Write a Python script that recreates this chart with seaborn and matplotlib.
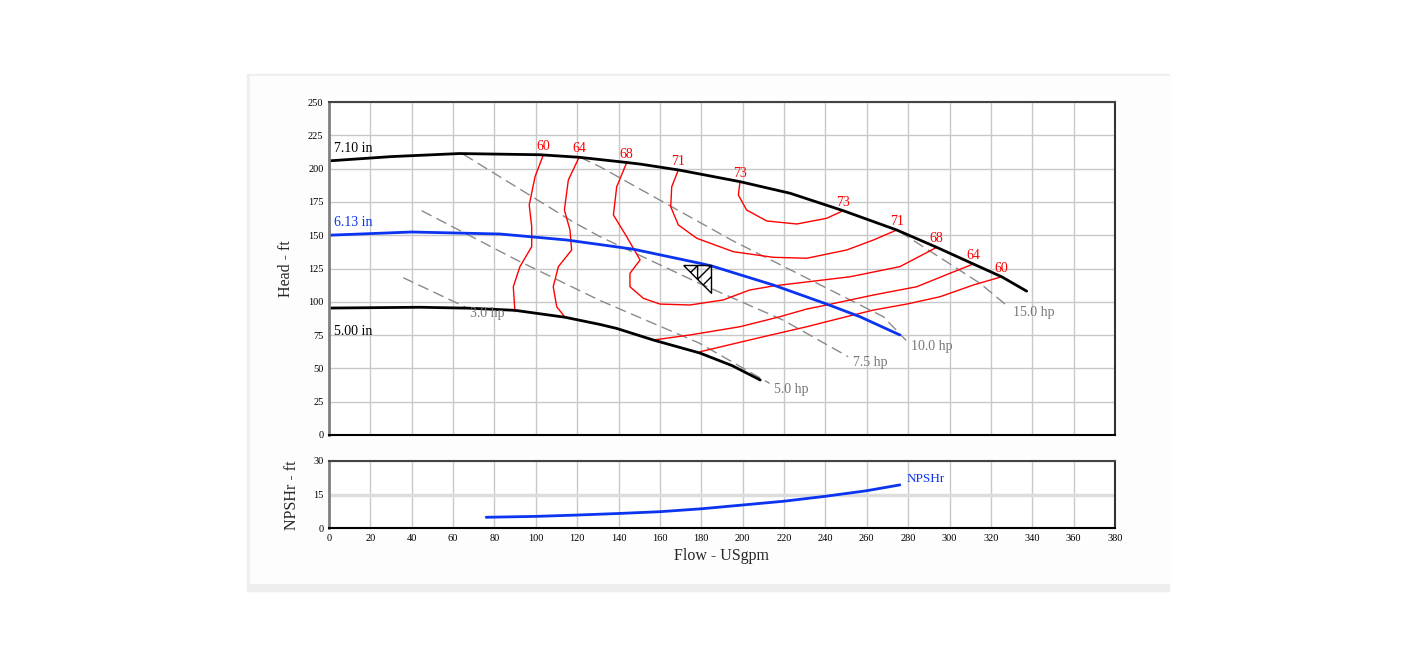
import matplotlib
matplotlib.use("Agg")
import matplotlib.pyplot as plt
import seaborn as sns
from matplotlib.path import Path
from matplotlib.patches import Rectangle

# Стиль
sns.set_theme(style="whitegrid")
plt.rcParams['font.family'] = ['Liberation Serif', 'DejaVu Serif']

# ---- данные ----
# кривые напора по диаметру рабочего колеса
flow_710 = [0, 30, 63, 102, 120.9, 143.9, 150.4, 168.9, 198.7, 222.9, 248.6, 274.5, 293.8, 311.5, 325.2, 337.3]
head_710 = [205.8, 209, 211.3, 210.4, 208.5, 204.6, 203.4, 199, 190.2, 181.5, 168.4, 153.9, 140.9, 128.4, 118.8, 108]

flow_613 = [0, 40, 82.7, 114.9, 147.1, 179.4, 185, 214.8, 240.6, 256.7, 276]
head_613 = [150, 152.4, 150.9, 146.4, 139.5, 128.9, 126.9, 112.6, 98.3, 88.8, 75.1]

flow_500 = [0, 44, 68, 89.9, 114.1, 131, 139.1, 156.8, 179.4, 195, 208.5]
head_500 = [95.3, 95.9, 95.2, 93.6, 88.4, 83, 80, 71.3, 61.5, 52, 41.3]

impellers = [
    ("7.10 in", flow_710, head_710, "black", 9),
    ("6.13 in", flow_613, head_613, "#0a34f0", 9),
    ("5.00 in", flow_500, head_500, "black", -17),
]

# линии мощности
power_lines = {
    "3.0 hp": ([35.9, 66], [118.1, 96]),
    "5.0 hp": ([44.8, 90.7, 131, 179, 213], [168.4, 131.4, 101, 69, 38.8]),
    "7.5 hp": ([65, 118, 131, 179, 219.5, 251], [210.7, 160, 148.9, 113.9, 86.3, 58.8]),
    "10.0 hp": ([121.4, 131, 195, 268, 279], [208.5, 201.4, 146, 88.8, 71]),
    "15.0 hp": ([276, 314.7, 328.4], [152.6, 113.9, 96.3]),
}

# изолинии КПД: открытые ветви (подпись только у верхнего конца)
eff_branches = [
    ("60", [103.6, 99.6, 96.8, 98, 98, 92.3, 89.1, 89.9],
     [210.2, 193.9, 172.7, 156.4, 141.4, 126.4, 111.3, 92.6]),
    ("60", [325.2, 311.5, 295.4, 279.3, 263.2, 247, 231, 206.8, 179.4],
     [118.8, 112.6, 103.8, 98.3, 93.8, 87.6, 81.3, 72.6, 62.5]),
    ("64", [120.9, 115.7, 113.8, 116.5, 117.3, 110.9, 108.4, 110.1, 114.1],
     [208.5, 191.4, 168.9, 153.9, 138.9, 126.4, 111.3, 96.3, 88.4]),
    ("64", [311.5, 300.2, 284.1, 263.2, 240.6, 231, 218, 198.7, 174.5, 156.8],
     [128.4, 121.4, 111.3, 105.1, 97.6, 94.6, 88.8, 81.3, 75.1, 71.3]),
]
# замкнутые на верхнюю кривую (подпись у обоих концов)
eff_loops = [
    ("68", [143.9, 139.1, 137.5, 143.9, 150.4, 145.5, 145.5, 152, 160, 174.5, 190.6, 203.5, 214.8, 251.9, 276, 293.8],
     [204.4, 186.4, 165.2, 148.9, 131.4, 121.4, 111.3, 102.6, 98.3, 97.6, 101.4, 108.9, 111.9, 118.8, 126.4, 140.9]),
    ("71", [168.9, 165.7, 165.2, 168.9, 177.8, 195.5, 214.8, 231, 250.3, 263.2, 274.5],
     [199, 186.4, 171.4, 157.7, 147.7, 137.6, 133.4, 132.7, 138.9, 146.4, 153.9]),
    ("73", [198.7, 197.9, 201.9, 211.6, 226.1, 240.6, 248.6],
     [190.2, 180.2, 168.9, 160.7, 158.4, 162.7, 168.4]),
]

bep_flow, bep_head = 184.6, 127.6

npsh_flow = [76, 100, 120, 140, 160, 180, 200, 220, 240, 260, 276]
npsh_ft = [4.8, 5.2, 5.8, 6.5, 7.3, 8.6, 10.3, 12, 14.2, 16.7, 19.3]

x_ticks = list(range(0, 381, 20))
head_ticks = list(range(0, 251, 25))
npsh_ticks = [0, 15, 30]

BLUE = "#0a34f0"
RED = "#ff0000"
GRAY = "#8a8a8a"
W, H = 1416, 664


def px(x0, y0, x1, y1):
    """прямоугольник в пикселях -> доли фигуры"""
    return [x0 / W, 1 - y1 / H, (x1 - x0) / W, (y1 - y0) / H]


fig = plt.figure(figsize=(W / 100, H / 100), dpi=100)
fig.patch.set_facecolor("white")

# светлая подложка-рамка
fig.patches.append(Rectangle((247 / W, 1 - 591 / H), 922 / W, 517 / H,
                             transform=fig.transFigure, color="#eeeeee", zorder=-2))
fig.patches.append(Rectangle((250 / W, 1 - 583 / H), 919 / W, 507 / H,
                             transform=fig.transFigure, color="#fdfdfd", zorder=-1))

ax = fig.add_axes(px(329, 102, 1115, 435))
ax2 = fig.add_axes(px(329, 461, 1115, 528))


def style_axes(a, yticks, ymax):
    a.set_facecolor("white")
    a.set_xlim(0, 380)
    a.set_ylim(0, ymax)
    a.set_xticks(x_ticks)
    a.set_yticks(yticks)
    a.grid(True, color="#c8c8c8", linewidth=1)
    a.tick_params(length=0, labelsize=7.5, pad=4, colors="black")
    a.spines["left"].set_color("#808080")
    a.spines["left"].set_linewidth(2)
    a.spines["bottom"].set_color("black")
    a.spines["bottom"].set_linewidth(1.5)
    a.spines["top"].set_color("#444444")
    a.spines["top"].set_linewidth(1.5)
    a.spines["right"].set_color("#333333")
    a.spines["right"].set_linewidth(1.5)


style_axes(ax, head_ticks, 250)
style_axes(ax2, npsh_ticks, 30)
ax.tick_params(labelbottom=False)
ax2.get_ygridlines()[1].set_linewidth(2.5)
ax2.get_ygridlines()[1].set_color("#dddddd")

# линии мощности
for label, (fx, fy) in power_lines.items():
    sns.lineplot(x=fx, y=fy, ax=ax, sort=False, estimator=None, color=GRAY,
                 linewidth=1, linestyle=(0, (8, 4)))
    ax.annotate(label, (fx[-1], fy[-1]), xytext=(3.5, -4.5), textcoords="offset points",
                ha="left", va="center", fontsize=10, color="#777777")


def eff_label(label, x, y):
    ax.annotate(label, (x, y), xytext=(0, 1.5), textcoords="offset points",
                ha="center", va="bottom", fontsize=10, color=RED)


# изолинии КПД
for label, fx, fy in eff_branches:
    sns.lineplot(x=fx, y=fy, ax=ax, sort=False, estimator=None, color=RED, linewidth=1)
    eff_label(label, fx[0], fy[0])

for label, fx, fy in eff_loops:
    sns.lineplot(x=fx, y=fy, ax=ax, sort=False, estimator=None, color=RED, linewidth=1)
    eff_label(label, fx[0], fy[0])
    eff_label(label, fx[-1], fy[-1])

# кривые напора
for name, fx, fy, col, dy in impellers:
    sns.lineplot(x=fx, y=fy, ax=ax, sort=False, estimator=None, color=col, linewidth=2)
    ax.annotate(name, (fx[0], fy[0]), xytext=(3.5, dy), textcoords="offset points",
                ha="left", va="center", fontsize=10, color=col)

# маркер рабочей точки (треугольник со штриховкой)
bep_marker = Path(
    [(-1, 0), (0, 0), (0, -1), (-1, 0),
     (-0.75, -0.25), (-0.5, 0),
     (-0.5, -0.5), (0, 0),
     (-0.3, -0.7), (0, -0.4),
     (-0.5, 0), (-0.5, -0.5)],
    [Path.MOVETO, Path.LINETO, Path.LINETO, Path.LINETO,
     Path.MOVETO, Path.LINETO,
     Path.MOVETO, Path.LINETO,
     Path.MOVETO, Path.LINETO,
     Path.MOVETO, Path.LINETO])
ax.plot([bep_flow], [bep_head], marker=bep_marker, markersize=40, markerfacecolor="none",
        markeredgecolor="black", markeredgewidth=1, linestyle="none", zorder=5)

ax.set_ylabel("Head - ft", fontsize=11.5, va="center")
ax.yaxis.set_label_coords(-0.055, 0.5)

# NPSHr
sns.lineplot(x=npsh_flow, y=npsh_ft, ax=ax2, sort=False, estimator=None, color=BLUE, linewidth=2)
ax2.annotate("NPSHr", (npsh_flow[-1], npsh_ft[-1]), xytext=(5, 4), textcoords="offset points",
             ha="left", va="center", fontsize=9.5, color=BLUE)
ax2.set_ylabel("NPSHr - ft", fontsize=11.5, va="center")
ax2.yaxis.set_label_coords(-0.047, 0.49)
ax2.set_xlabel("Flow - USgpm", fontsize=11.5, va="center")
ax2.xaxis.set_label_coords(0.5, -0.42)

fig.savefig("out.png", dpi=100)
plt.close(fig)
